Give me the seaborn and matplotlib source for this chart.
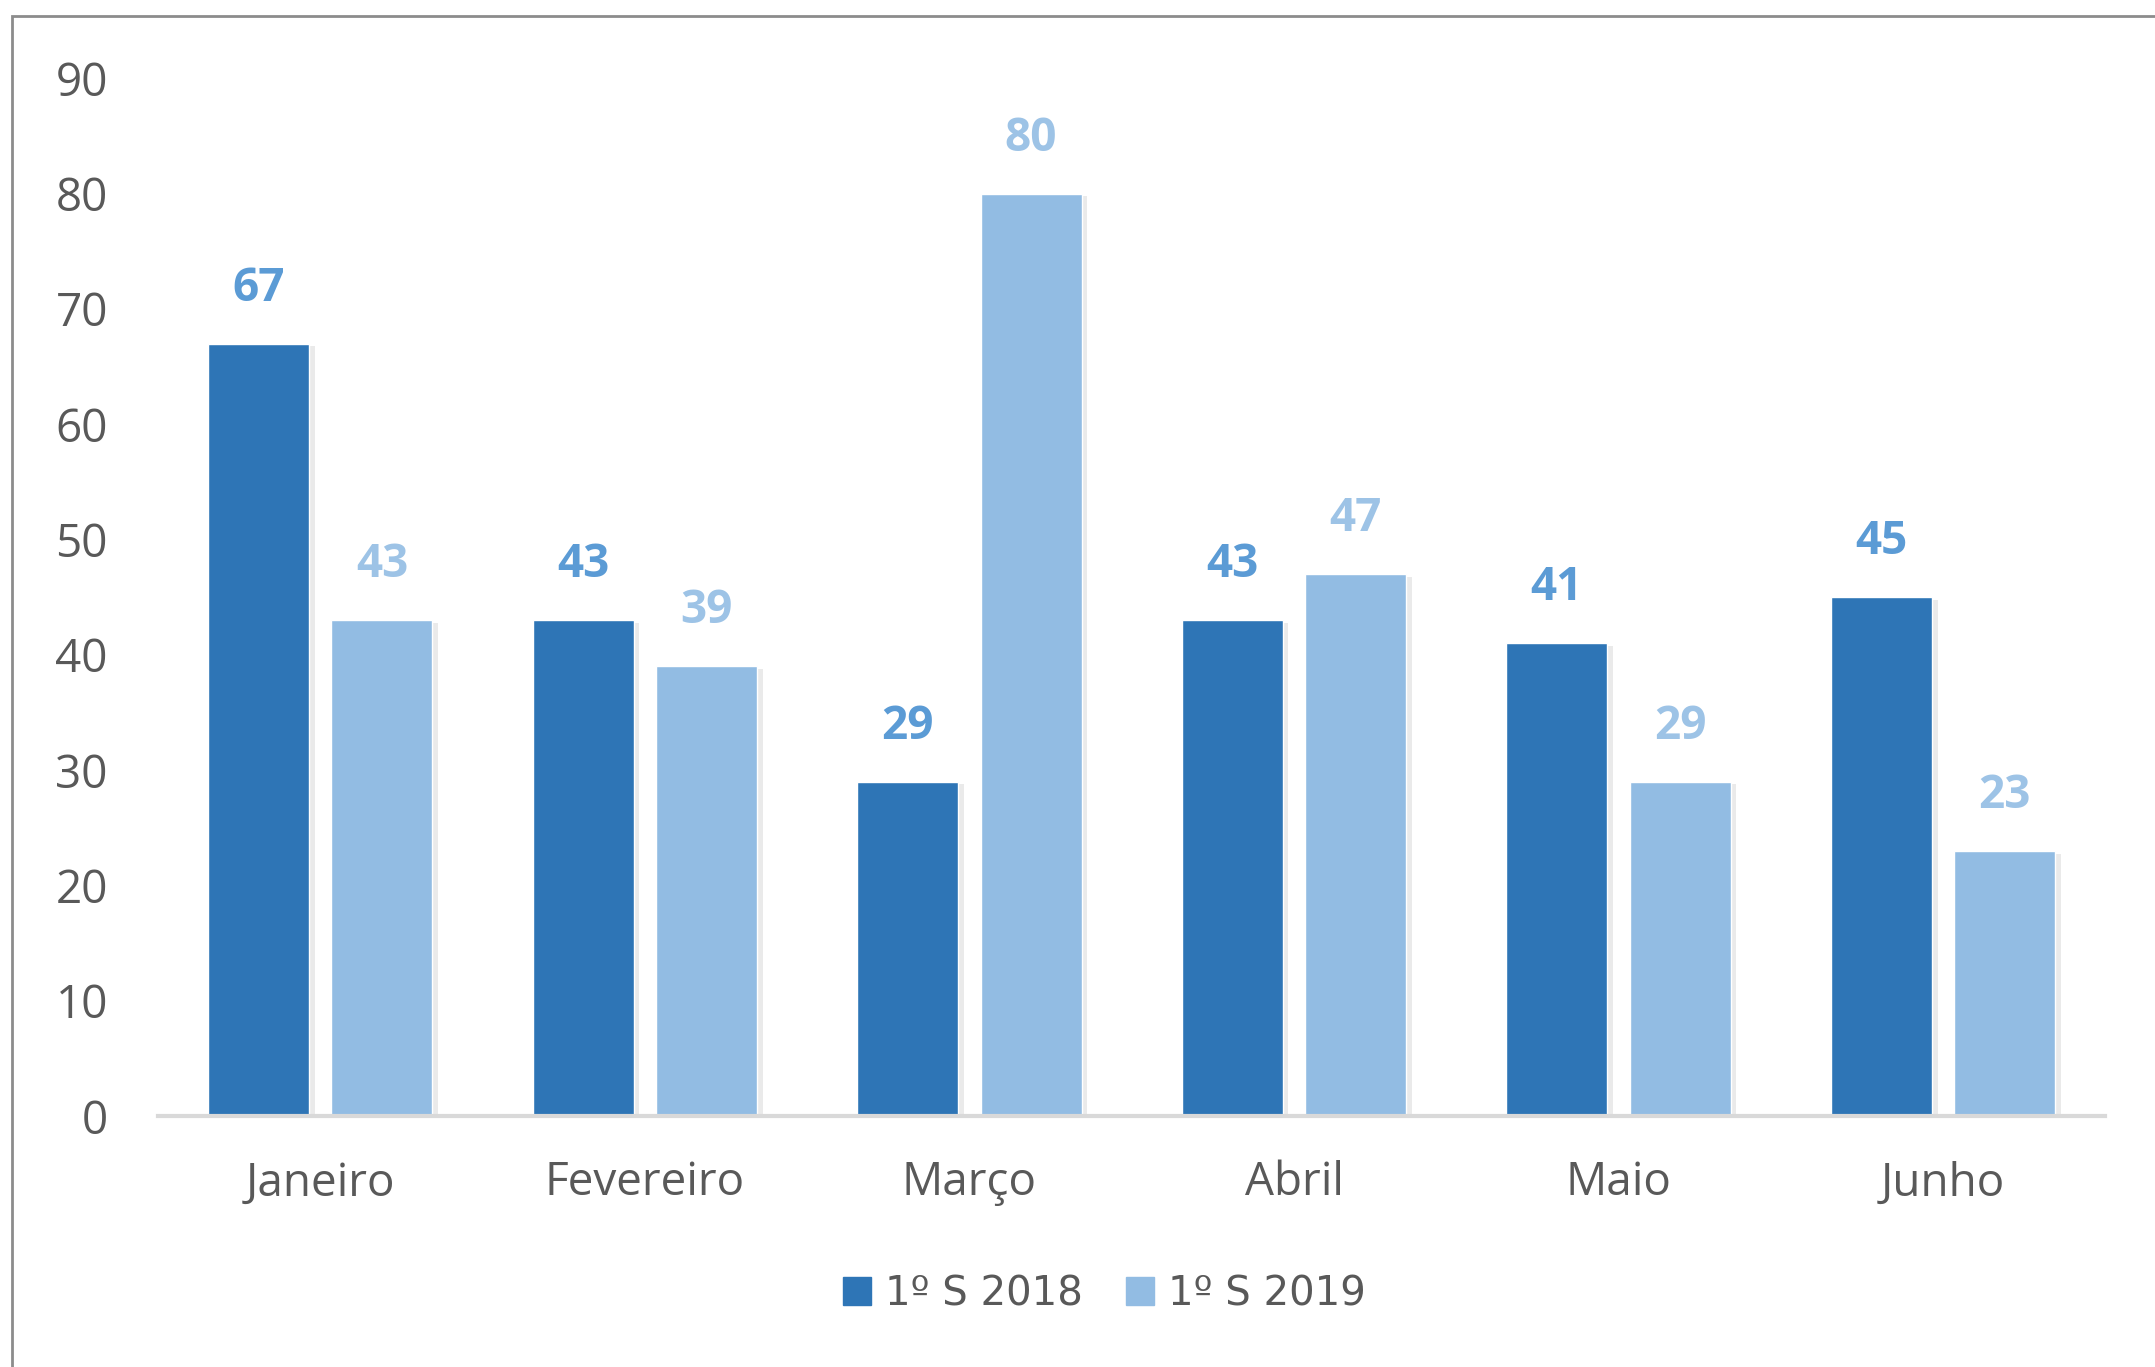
import matplotlib
matplotlib.use("Agg")
import matplotlib.pyplot as plt
import matplotlib.patheffects as pe
from matplotlib.lines import Line2D
from matplotlib.patches import Rectangle
import seaborn as sns
import pandas as pd

meses = ["Janeiro", "Fevereiro", "Março", "Abril", "Maio", "Junho"]
s2018 = [67, 43, 29, 43, 41, 45]
s2019 = [43, 39, 80, 47, 29, 23]
series = ["1º S 2018", "1º S 2019"]
cores = ["#2E75B6", "#92BCE3"]
cores_rotulo = ["#5B9BD5", "#9DC3E6"]

df = pd.DataFrame({
    "mes": meses * 2,
    "valor": s2018 + s2019,
    "serie": [series[0]] * len(meses) + [series[1]] * len(meses),
})

sns.set_style("white")
plt.rcParams["font.family"] = ["Open Sans", "DejaVu Sans"]

fig = plt.figure(figsize=(21.55, 13.67), dpi=100)
ax = fig.add_axes([0.0733, 0.1836, 0.9037, 0.7591])

sns.barplot(
    data=df,
    x="mes",
    y="valor",
    hue="serie",
    palette=cores,
    width=0.76,
    gap=0.18,
    saturation=1,
    legend=False,
    ax=ax,
)

# sombra leve das barras
for p in ax.patches:
    p.set_path_effects([
        pe.SimplePatchShadow(offset=(4, -2), shadow_rgbFace="#9a9a9a", alpha=0.2),
        pe.Normal(),
    ])

# rótulos de dados
for cont, cor in zip(ax.containers, cores_rotulo):
    ax.bar_label(cont, padding=23, fontsize=33, fontweight="bold", color=cor)

ax.set_ylim(0, 90)
ax.set_xlim(-0.5, 5.5)
ax.set_yticks(range(0, 91, 10))
ax.set_xlabel("")
ax.set_ylabel("")
ax.tick_params(axis="y", length=0, pad=36, labelsize=33, labelcolor="#595959")
ax.tick_params(axis="x", length=0, pad=32, labelsize=33, labelcolor="#595959")
for s in ["left", "right", "top"]:
    ax.spines[s].set_visible(False)
ax.spines["bottom"].set_color("#D9D9D9")
ax.spines["bottom"].set_linewidth(3)
ax.grid(False)

# legenda
handles = [Line2D([0], [0], marker="s", linestyle="", markersize=20,
                  markerfacecolor=c, markeredgecolor=c) for c in cores]
fig.legend(handles, series, loc="center", bbox_to_anchor=(0.512, 0.053),
           ncol=2, frameon=False, labelcolor="#595959",
           prop={"family": ["DejaVu Sans"], "size": 29},
           handletextpad=0.3, columnspacing=1.0, handlelength=0.8)

# moldura do gráfico
fig.patches.append(Rectangle((12 / 2155, -0.05), 1.2, 1 - 16 / 1367 + 0.05,
                             transform=fig.transFigure, fill=False,
                             edgecolor="#8C8C8C", linewidth=2))

fig.savefig("out.png", dpi=100)
